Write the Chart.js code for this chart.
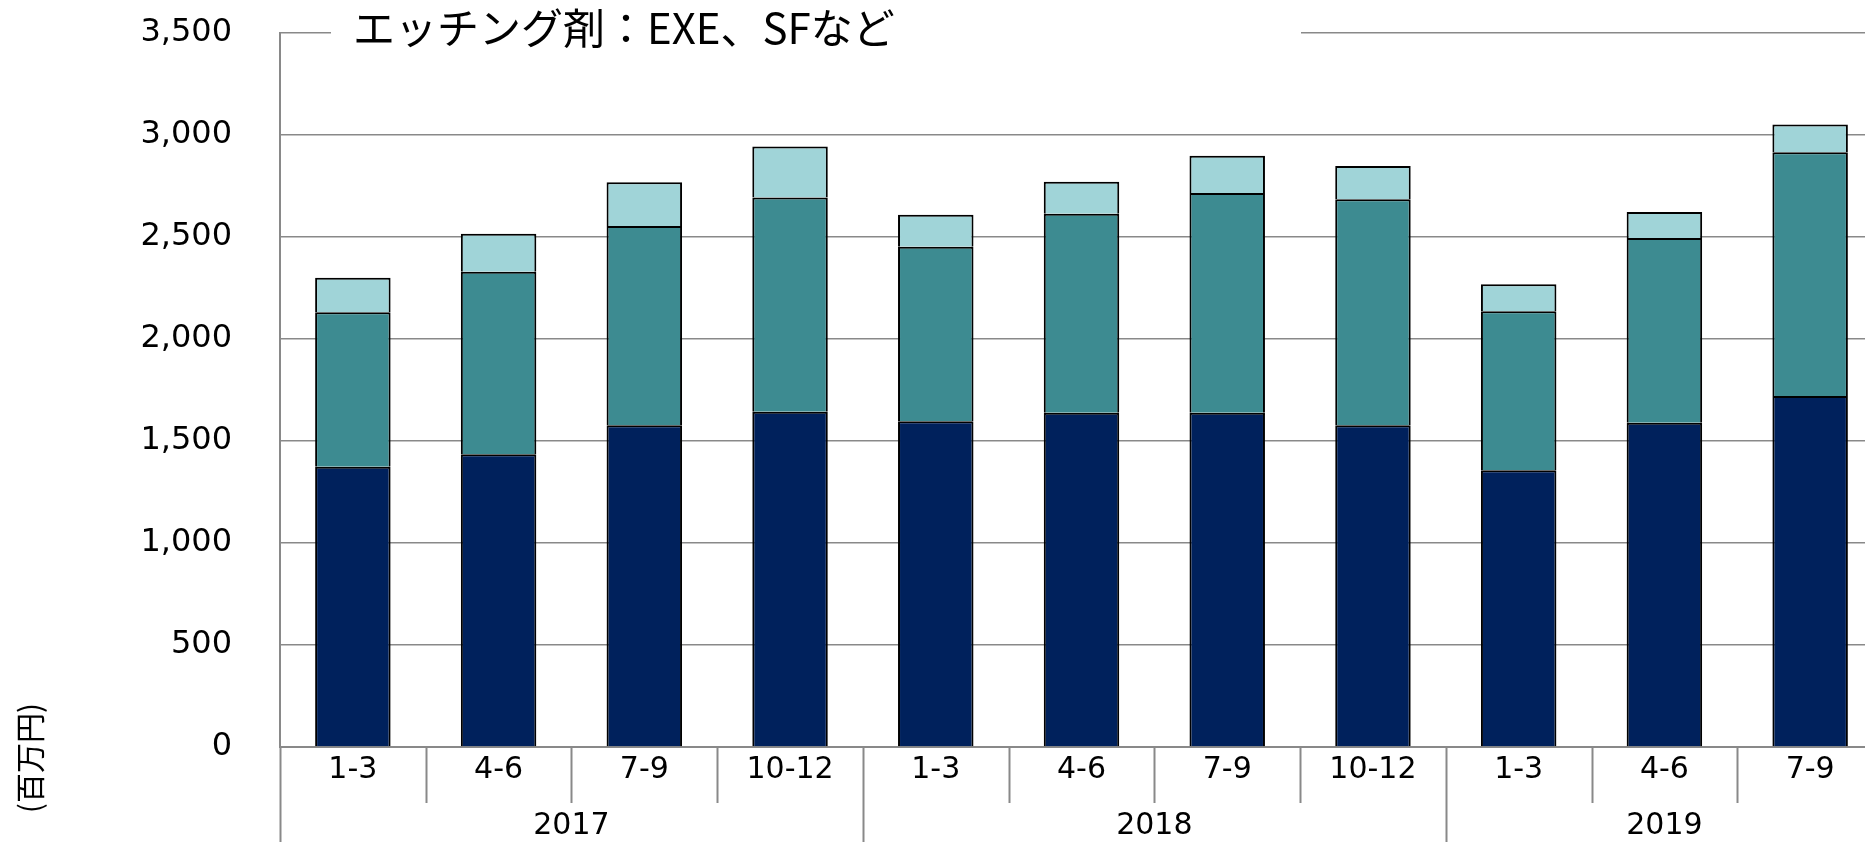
<!DOCTYPE html>
<html lang="ja">
<head>
<meta charset="utf-8">
<title>エッチング剤：EXE、SFなど</title>
<script src="https://cdn.jsdelivr.net/npm/chart.js@4.4.1/dist/chart.umd.min.js"></script>
<style>
  html, body { margin: 0; padding: 0; background: #fff; }
  #wrap { width: 1865px; height: 842px; overflow: hidden; }
  #inner { width: 1883px; height: 842px; }
</style>
</head>
<body>
<div id="wrap"><div id="inner"><canvas id="etchingchart" width="1883" height="842"></canvas></div></div>
<script>
// quarter labels and year groups
const quarters = ['1-3', '4-6', '7-9', '10-12', '1-3', '4-6', '7-9', '10-12', '1-3', '4-6', '7-9'];
const years = ['2017', '2018', '2019'];
const yearSpans = [4, 4, 3];

// stacked values (百万円), bottom to top
const seriesBottom = [1374, 1435, 1577, 1643, 1597, 1639, 1639, 1577, 1357, 1589, 1720];
const seriesMiddle = [757, 895, 977, 1051, 855, 975, 1077, 1108, 779, 906, 1195];
const seriesTop = [169, 186, 214, 250, 157, 157, 182, 163, 132, 127, 136];

const yTicks = [0, 500, 1000, 1500, 2000, 2500, 3000, 3500];

const chartTitle = 'エッチング剤：EXE、SFなど';
const unitLabel = '(百万円)';

const latinFont = '"DejaVu Sans", sans-serif';
const jpFont = '"Noto Sans CJK JP", sans-serif';
const gridGray = '#898989';

// draws the two-level category axis, the title box and the unit label
const decorations = {
    id: 'decorations',
    afterDraw(chart) {
        const ctx = chart.ctx;
        const area = chart.chartArea;
        const x = chart.scales.x;
        const step = (area.right - area.left) / quarters.length;

        ctx.save();
        ctx.strokeStyle = gridGray;
        ctx.lineWidth = 2;

        // separators between quarters / years
        const yearStarts = [];
        let acc = 0;
        yearSpans.forEach(n => { yearStarts.push(acc); acc += n; });
        for (let i = 0; i <= quarters.length; i++) {
            const px = Math.round(area.left + i * step) + 0.5;
            const long = yearStarts.includes(i);
            ctx.beginPath();
            ctx.moveTo(px, area.bottom);
            ctx.lineTo(px, long ? chart.height : area.bottom + 56);
            ctx.stroke();
        }

        // quarter labels
        ctx.fillStyle = '#000';
        ctx.font = '30px ' + latinFont;
        ctx.textAlign = 'center';
        ctx.textBaseline = 'middle';
        quarters.forEach((q, i) => {
            ctx.fillText(q, x.getPixelForValue(i), area.bottom + 23);
        });

        // year labels
        yearStarts.forEach((start, k) => {
            const first = x.getPixelForValue(start);
            const last = x.getPixelForValue(start + yearSpans[k] - 1);
            ctx.fillText(years[k], (first + last) / 2, area.bottom + 79);
        });

        // title box over the top gridline
        ctx.fillStyle = '#fff';
        ctx.fillRect(331, area.top - 8, 970, 16);
        ctx.fillStyle = '#000';
        ctx.font = '42px ' + jpFont;
        ctx.textAlign = 'left';
        ctx.textBaseline = 'middle';
        ctx.fillText(chartTitle, 353, area.top - 5);

        // unit label, rotated
        ctx.translate(30, 758);
        ctx.rotate(-Math.PI / 2);
        ctx.font = '30px ' + jpFont;
        ctx.textAlign = 'center';
        ctx.textBaseline = 'middle';
        ctx.fillText(unitLabel, 0, 0);
        ctx.restore();
    }
};

const canvas = document.getElementById('etchingchart');
const ctx = canvas.getContext('2d');

// bottom edge skipped so stacked segments share one 2px dividing line
const barStyle = {
    borderColor: '#000',
    borderWidth: 2,
    borderSkipped: 'start',
    barPercentage: 0.518,
    categoryPercentage: 1.0
};

const etchingChart = new Chart(ctx, {
    type: 'bar',
    data: {
        labels: quarters,
        datasets: [
            Object.assign({ label: 'bottom', data: seriesBottom, backgroundColor: '#00215C' }, barStyle),
            Object.assign({ label: 'middle', data: seriesMiddle, backgroundColor: '#3D8B91' }, barStyle),
            Object.assign({ label: 'top', data: seriesTop, backgroundColor: '#A0D4D8' }, barStyle)
        ]
    },
    options: {
        responsive: false,
        animation: false,
        devicePixelRatio: 1,
        layout: { padding: { top: 33, left: 0, right: 0, bottom: 0 } },
        plugins: {
            legend: { display: false },
            tooltip: { enabled: false }
        },
        scales: {
            x: {
                stacked: true,
                grid: { display: false, drawTicks: false },
                border: { display: true, color: gridGray, width: 2 },
                ticks: { display: false },
                afterFit(scale) { scale.height = 95; }
            },
            y: {
                stacked: true,
                min: yTicks[0],
                max: yTicks[yTicks.length - 1],
                afterBuildTicks(scale) {
                    scale.ticks = yTicks.map(v => ({ value: v }));
                },
                ticks: {
                    color: '#000',
                    padding: 12,
                    font: { family: latinFont, size: 32 },
                    callback: v => v.toLocaleString('en-US')
                },
                // invisible tick marks push the labels left without adding top padding
                grid: { color: gridGray, lineWidth: 1.5, drawTicks: true, tickLength: 36, tickColor: 'rgba(0,0,0,0)' },
                border: { display: true, color: gridGray, width: 2 },
                afterFit(scale) { scale.width = 280; }
            }
        }
    },
    plugins: [decorations]
});
</script>
</body>
</html>
